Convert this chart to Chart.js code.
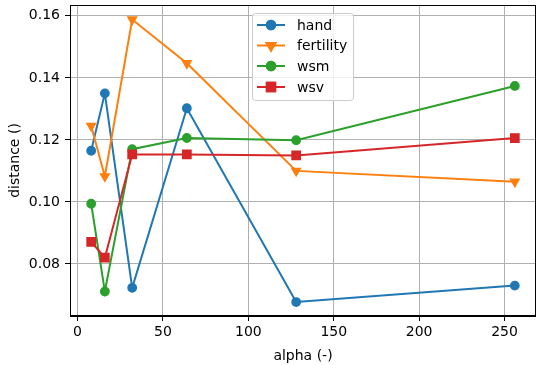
<!DOCTYPE html>
<html>
<head>
<meta charset="utf-8">
<script src="https://cdn.jsdelivr.net/npm/chart.js@4"></script>
<style>
  body { margin: 0; background: #fff; }
  #wrap { width: 536px; height: 365px; }
</style>
</head>
<body>
<div id="wrap"><canvas id="myChart"></canvas></div>
<script>
// data
var alphas = [8, 16, 32, 64, 128, 256];
var hand = [0.1165, 0.1350, 0.0723, 0.1302, 0.0677, 0.0730];
var fertility = [0.1245, 0.1082, 0.1588, 0.1447, 0.1100, 0.1065];
var wsm = [0.0994, 0.0711, 0.1170, 0.1206, 0.1199, 0.1374];
var wsv = [0.0871, 0.0820, 0.1153, 0.1153, 0.1150, 0.1206];
var xTicks = [0, 50, 100, 150, 200, 250];
var yTicks = [0.08, 0.10, 0.12, 0.14, 0.16];

var font = "DejaVu Sans";

function pts(ys) {
  return alphas.map(function (a, i) { return { x: a, y: ys[i] }; });
}

function series(label, ys, color, style, radius, rotation, order) {
  return {
    label: label,
    data: pts(ys),
    showLine: true,
    borderColor: color,
    backgroundColor: color,
    borderWidth: 2,
    pointStyle: style,
    pointRadius: radius,
    pointRotation: rotation,
    pointBorderWidth: 1.4,
    pointBackgroundColor: color,
    pointBorderColor: color,
    order: order,
  };
}

function noPad(s) {
  s.paddingTop = 0;
  s.paddingBottom = 0;
  s.paddingLeft = 0;
  s.paddingRight = 0;
}

// matplotlib-like frame and legend
var framePlugin = {
  id: "frame",
  afterDatasetsDraw: function (chart) {
    var ctx = chart.ctx;
    var a = chart.chartArea;
    ctx.save();
    ctx.strokeStyle = "#000";
    ctx.lineWidth = 1;
    ctx.strokeRect(a.left + 0.5, a.top + 0.5, a.right - a.left - 1, a.bottom - a.top - 1);

    // legend box
    var bx = 252.5, by = 13.5, bw = 101, bh = 87, r = 3;
    ctx.beginPath();
    ctx.moveTo(bx + r, by);
    ctx.arcTo(bx + bw, by, bx + bw, by + bh, r);
    ctx.arcTo(bx + bw, by + bh, bx, by + bh, r);
    ctx.arcTo(bx, by + bh, bx, by, r);
    ctx.arcTo(bx, by, bx + bw, by, r);
    ctx.closePath();
    ctx.fillStyle = "rgba(255,255,255,0.8)";
    ctx.fill();
    ctx.strokeStyle = "#cccccc";
    ctx.lineWidth = 1;
    ctx.stroke();

    var rows = [25, 45.5, 66, 87];
    chart.data.datasets.forEach(function (ds, i) {
      var y = rows[i];
      ctx.strokeStyle = ds.borderColor;
      ctx.lineWidth = 2;
      ctx.beginPath();
      ctx.moveTo(257, y);
      ctx.lineTo(285, y);
      ctx.stroke();
      Chart.helpers.drawPoint(ctx, {
        pointStyle: ds.pointStyle,
        radius: ds.pointRadius,
        rotation: ds.pointRotation,
        borderWidth: ds.pointBorderWidth,
      }, 271, y);
      ctx.fillStyle = ds.borderColor;
      ctx.strokeStyle = ds.borderColor;
      ctx.fill();
      ctx.stroke();
      ctx.fillStyle = "#000";
      ctx.font = "14px '" + font + "'";
      ctx.textBaseline = "middle";
      ctx.fillText(ds.label, 297, y + 1);
    });
    ctx.restore();
  },
};

var ctx = document.getElementById("myChart");
new Chart(ctx, {
  type: "scatter",
  data: {
    datasets: [
      series("hand", hand, "#1f77b4", "circle", 4.2, 0, 4),
      series("fertility", fertility, "#ff7f0e", "triangle", 5, 180, 3),
      series("wsm", wsm, "#2ca02c", "circle", 4.2, 0, 2),
      series("wsv", wsv, "#d62728", "rect", 5.9, 0, 1),
    ],
  },
  options: {
    responsive: true,
    maintainAspectRatio: false,
    animation: false,
    layout: { autoPadding: false, padding: { top: 5, right: 0, left: 0, bottom: 0 } },
    plugins: { legend: { display: false }, tooltip: { enabled: false } },
    scales: {
      x: {
        type: "linear",
        min: -4.4,
        max: 268.4,
        afterFit: function (s) { s.height = 49; noPad(s); },
        afterBuildTicks: function (s) { s.ticks = xTicks.map(function (v) { return { value: v }; }); },
        grid: { color: "#b0b0b0", lineWidth: 1, tickColor: "#000", tickLength: 5 },
        border: { color: "#000", width: 1 },
        ticks: { color: "#000", padding: 3, font: { family: font, size: 14 }, maxRotation: 0,
          callback: function (v) { return String(v); } },
        title: { display: true, text: "alpha (-)", color: "#000",
          font: { family: font, size: 14 }, padding: { top: 9, bottom: 0 } },
      },
      y: {
        min: 0.0632,
        max: 0.1635,
        afterFit: function (s) { s.width = 70; noPad(s); },
        afterBuildTicks: function (s) { s.ticks = yTicks.map(function (v) { return { value: v }; }); },
        grid: { color: "#b0b0b0", lineWidth: 1, tickColor: "#000", tickLength: 5 },
        border: { color: "#000", width: 1 },
        ticks: { color: "#000", padding: 5, font: { family: font, size: 14 },
          callback: function (v) { return v.toFixed(2); } },
        title: { display: true, text: "distance ()", color: "#000",
          font: { family: font, size: 14 }, padding: { top: 6.5, bottom: 0 } },
      },
    },
  },
  plugins: [framePlugin],
});
</script>
</body>
</html>
